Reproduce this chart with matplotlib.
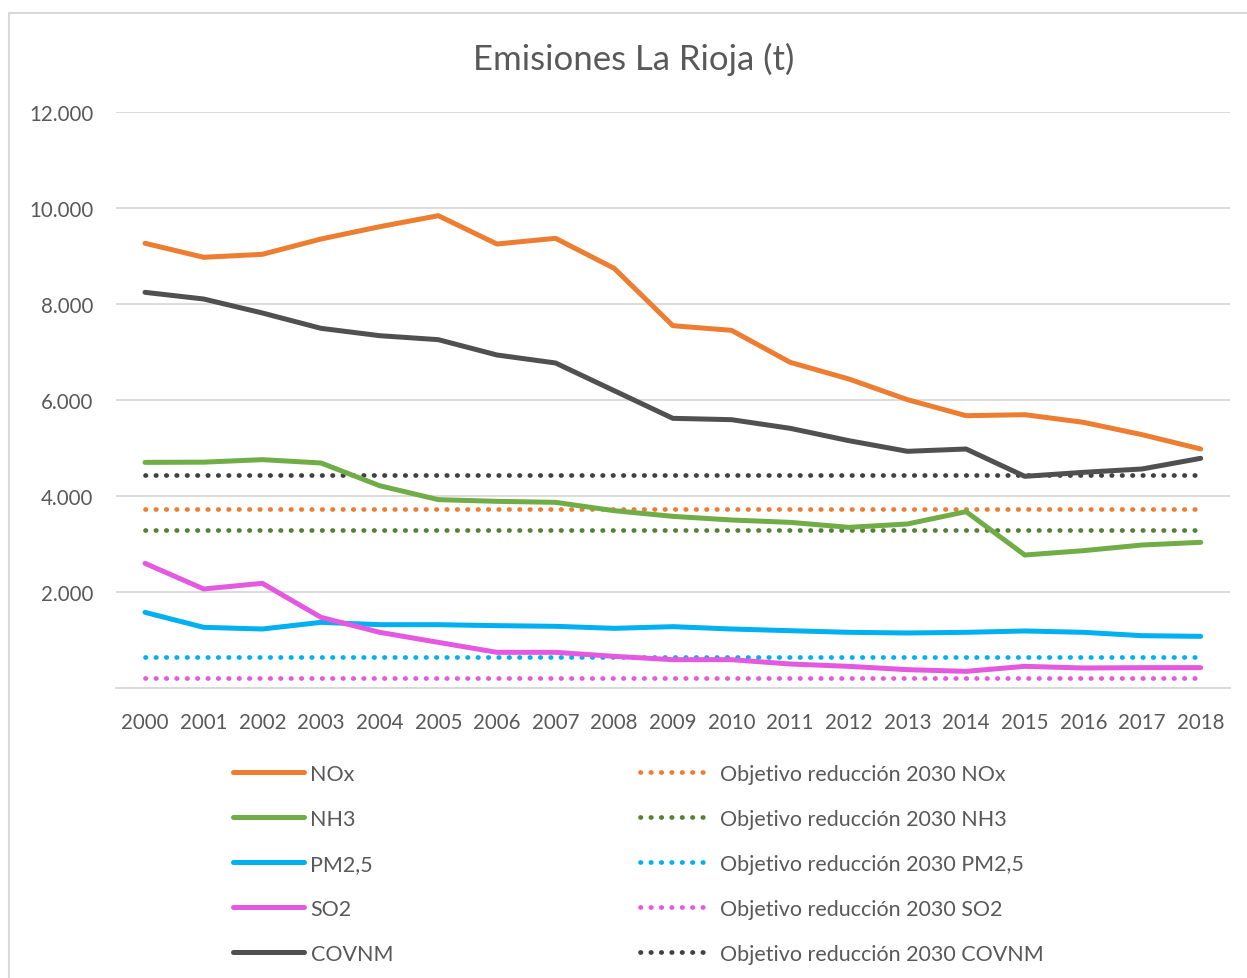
import matplotlib
matplotlib.use("Agg")
import matplotlib.pyplot as plt
from matplotlib.ticker import FuncFormatter
from matplotlib.patches import Rectangle

plt.rcParams['font.family'] = ['Lato', 'DejaVu Sans']

years = [str(y) for y in range(2000, 2019)]

nox = [9265, 8973, 9035, 9354, 9610, 9840, 9250, 9368, 8743, 7548, 7451,
       6785, 6438, 6007, 5673, 5694, 5535, 5278, 4979]
nh3 = [4701, 4705, 4757, 4688, 4215, 3924, 3889, 3868, 3694, 3576, 3500,
       3451, 3347, 3417, 3674, 2771, 2861, 2979, 3035]
pm25 = [1576, 1264, 1229, 1368, 1319, 1319, 1299, 1285, 1243, 1278, 1229,
        1194, 1160, 1146, 1160, 1188, 1160, 1090, 1076]
so2 = [2597, 2063, 2181, 1472, 1160, 951, 743, 743, 660, 590, 590,
       500, 451, 382, 347, 451, 417, 424, 424]
covnm = [8243, 8104, 7813, 7493, 7340, 7257, 6938, 6771, 6194, 5618, 5590,
         5410, 5153, 4931, 4979, 4410, 4493, 4563, 4785]

# objetivos 2030 (constantes)
obj_nox = 3729
obj_nh3 = 3298
obj_pm25 = 653
obj_so2 = 202
obj_covnm = 4431

series = [
    ("NOx", nox, "#ED7D31", obj_nox, "#ED7D31"),
    ("NH3", nh3, "#70AD47", obj_nh3, "#548235"),
    ("PM2,5", pm25, "#00B0F0", obj_pm25, "#00B0F0"),
    ("SO2", so2, "#E459E0", obj_so2, "#E459E0"),
    ("COVNM", covnm, "#505050", obj_covnm, "#404040"),
]

W, H = 1247, 979
fig = plt.figure(figsize=(W / 100, H / 100), dpi=100)
ax = fig.add_axes([115.7 / W, 1 - 689 / H, (1230 - 115.7) / W, 576 / H])

txt = "#595959"
grid = "#D9D9D9"
x = list(range(len(years)))

main_handles = []
obj_handles = []
for name, vals, col, obj, ocol in series:
    h, = ax.plot(x, vals, color=col, lw=3.6, solid_capstyle='round',
                 solid_joinstyle='round', label=name, zorder=3)
    main_handles.append(h)
for name, vals, col, obj, ocol in series:
    o, = ax.plot(x, [obj] * len(x), color=ocol, lw=3.4,
                 linestyle=(0, (0.1, 2.1)), dash_capstyle='round',
                 label="Objetivo reducción 2030 " + name, zorder=2)
    obj_handles.append(o)

ax.set_xlim(-0.5, len(years) - 0.5)
ax.set_ylim(0, 12000)
ax.set_yticks(range(0, 12001, 2000))
ax.yaxis.set_major_formatter(FuncFormatter(
    lambda v, p: "" if v == 0 else f"{v:,.0f}".replace(",", ".")))
ax.set_xticks(x)
ax.set_xticklabels(years)
ax.grid(axis='y', color=grid, lw=1.3)
ax.set_axisbelow(True)
for s in ['top', 'right', 'left']:
    ax.spines[s].set_visible(False)
ax.spines['bottom'].set_color(grid)
ax.spines['bottom'].set_linewidth(1.3)
ax.tick_params(length=0, colors=txt, labelsize=14.8)
ax.tick_params(axis='y', pad=16)
ax.tick_params(axis='x', pad=17)

fig.text(634 / W, 1 - 59 / H, "Emisiones La Rioja (t)", ha='center',
         va='center', fontsize=25, color=txt)

leg1 = fig.legend(handles=main_handles, loc='upper left',
                  bbox_to_anchor=(233 / W, 1 - 765 / H), frameon=False,
                  fontsize=15.5, handlelength=3.3, handletextpad=0.3,
                  labelspacing=1.16, borderpad=0, borderaxespad=0, labelcolor=txt)
leg2 = fig.legend(handles=obj_handles, loc='upper left',
                  bbox_to_anchor=(640 / W, 1 - 765 / H), frameon=False,
                  fontsize=15.5, handlelength=3.1, handletextpad=0.6,
                  labelspacing=1.16, borderpad=0, borderaxespad=0, labelcolor=txt)

# marco del gráfico
fig.patches.append(Rectangle((9 / W, -0.1), 2, (H - 14) / H + 0.1, fill=False,
                             edgecolor=grid, lw=1.5, transform=fig.transFigure))

fig.savefig("out.png", dpi=100)
